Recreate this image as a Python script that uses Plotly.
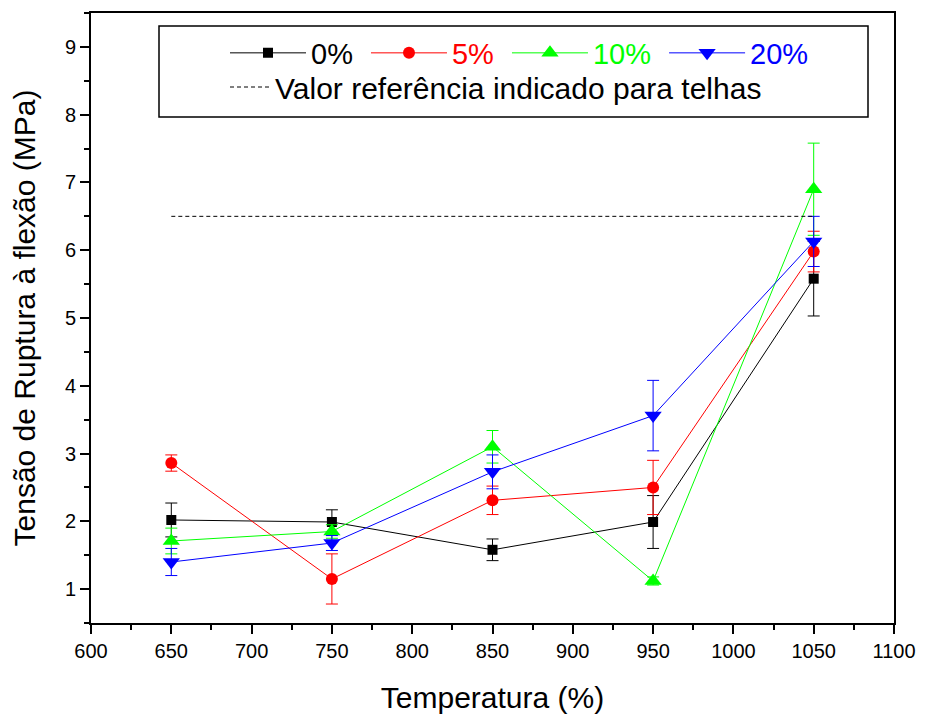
import plotly.graph_objects as go

temps = [650, 750, 850, 950, 1050]
series_names = ["0%", "5%", "10%", "20%"]
y_0 = [2.02, 1.99, 1.58, 1.99, 5.58]
e_0 = [0.25, 0.18, 0.16, 0.39, 0.55]
y_5 = [2.86, 1.15, 2.31, 2.50, 5.98]
e_5 = [0.12, 0.37, 0.21, 0.40, 0.30]
y_10 = [1.71, 1.85, 3.10, 1.12, 6.90]
e_10 = [0.19, 0.10, 0.24, 0.06, 0.68]
y_20 = [1.40, 1.68, 2.73, 3.56, 6.13]
e_20 = [0.20, 0.11, 0.25, 0.52, 0.37]
ref_x = [650, 1050]
ref_y = [6.5, 6.5]
ref_name = "Valor referência indicado para telhas"

colors = ["#000000", "#FF0000", "#00FF00", "#0000FF"]
symbols = ["square", "circle", "triangle-up", "triangle-down"]
sizes = [10, 12, 15, 15]
ys = [y_0, y_5, y_10, y_20]
es = [e_0, e_5, e_10, e_20]

fig = go.Figure()
for name, y, e, c, s, sz in zip(series_names, ys, es, colors, symbols, sizes):
    fig.add_trace(go.Scatter(
        x=temps, y=y, mode="lines+markers",
        name=f'<span style="color:{c}">{name}</span>\u00a0',
        line=dict(color=c, width=1),
        marker=dict(symbol=s, size=sz, color=c),
        error_y=dict(type="data", array=e, visible=True, color=c, thickness=1, width=6),
        legend="legend",
    ))

fig.add_trace(go.Scatter(
    x=ref_x, y=ref_y, mode="lines", name=ref_name,
    line=dict(color="black", width=1, dash="4px,3px"),
    legend="legend2",
))

W, H = 926, 718
ml, mr, mt, mb = 91, 32, 13, 95
pw = W - ml - mr
ph = H - mt - mb

def px(xp):
    return (xp - ml) / pw

def py(yp):
    return (H - mb - yp) / ph

font = "Liberation Sans, Arial, sans-serif"

fig.update_layout(
    width=W, height=H,
    margin=dict(l=ml, r=mr, t=mt, b=mb),
    paper_bgcolor="white", plot_bgcolor="white",
    font=dict(family=font, size=20, color="black"),
    showlegend=True,
    legend=dict(orientation="h", x=px(225), y=py(53), xanchor="left", yanchor="middle",
                font=dict(size=29), bgcolor="rgba(0,0,0,0)", itemwidth=76,
                tracegroupgap=0),
    legend2=dict(orientation="h", x=px(225), y=py(87), xanchor="left", yanchor="middle",
                 font=dict(size=30), bgcolor="rgba(0,0,0,0)", itemwidth=40),
    xaxis=dict(range=[600, 1100], tickvals=list(range(600, 1101, 50)),
               ticks="outside", ticklen=9, tickwidth=2, tickcolor="black",
               minor=dict(ticks="outside", ticklen=5, tickwidth=2, dtick=25, tickcolor="black"),
               showline=True, linewidth=2, linecolor="black", mirror=True,
               showgrid=False, zeroline=False, automargin=False,
               tickfont=dict(size=20),
               title=dict(text="Temperatura (%)", font=dict(size=30), standoff=26)),
    yaxis=dict(range=[0.5, 9.5], tickvals=list(range(1, 10)),
               ticks="outside", ticklen=9, tickwidth=2, tickcolor="black",
               minor=dict(ticks="outside", ticklen=5, tickwidth=2, dtick=0.5, tickcolor="black"),
               showline=True, linewidth=2, linecolor="black", mirror=True,
               showgrid=False, zeroline=False, automargin=True,
               tickfont=dict(size=20),
               title=dict(text="Tensão de Ruptura à flexão (MPa)", font=dict(size=30), standoff=20)),
    shapes=[dict(type="rect", xref="paper", yref="paper",
                 x0=px(159), x1=px(868), y0=py(117), y1=py(26),
                 line=dict(color="black", width=1.5), fillcolor="rgba(0,0,0,0)")],
)

fig.write_html("out.html")
